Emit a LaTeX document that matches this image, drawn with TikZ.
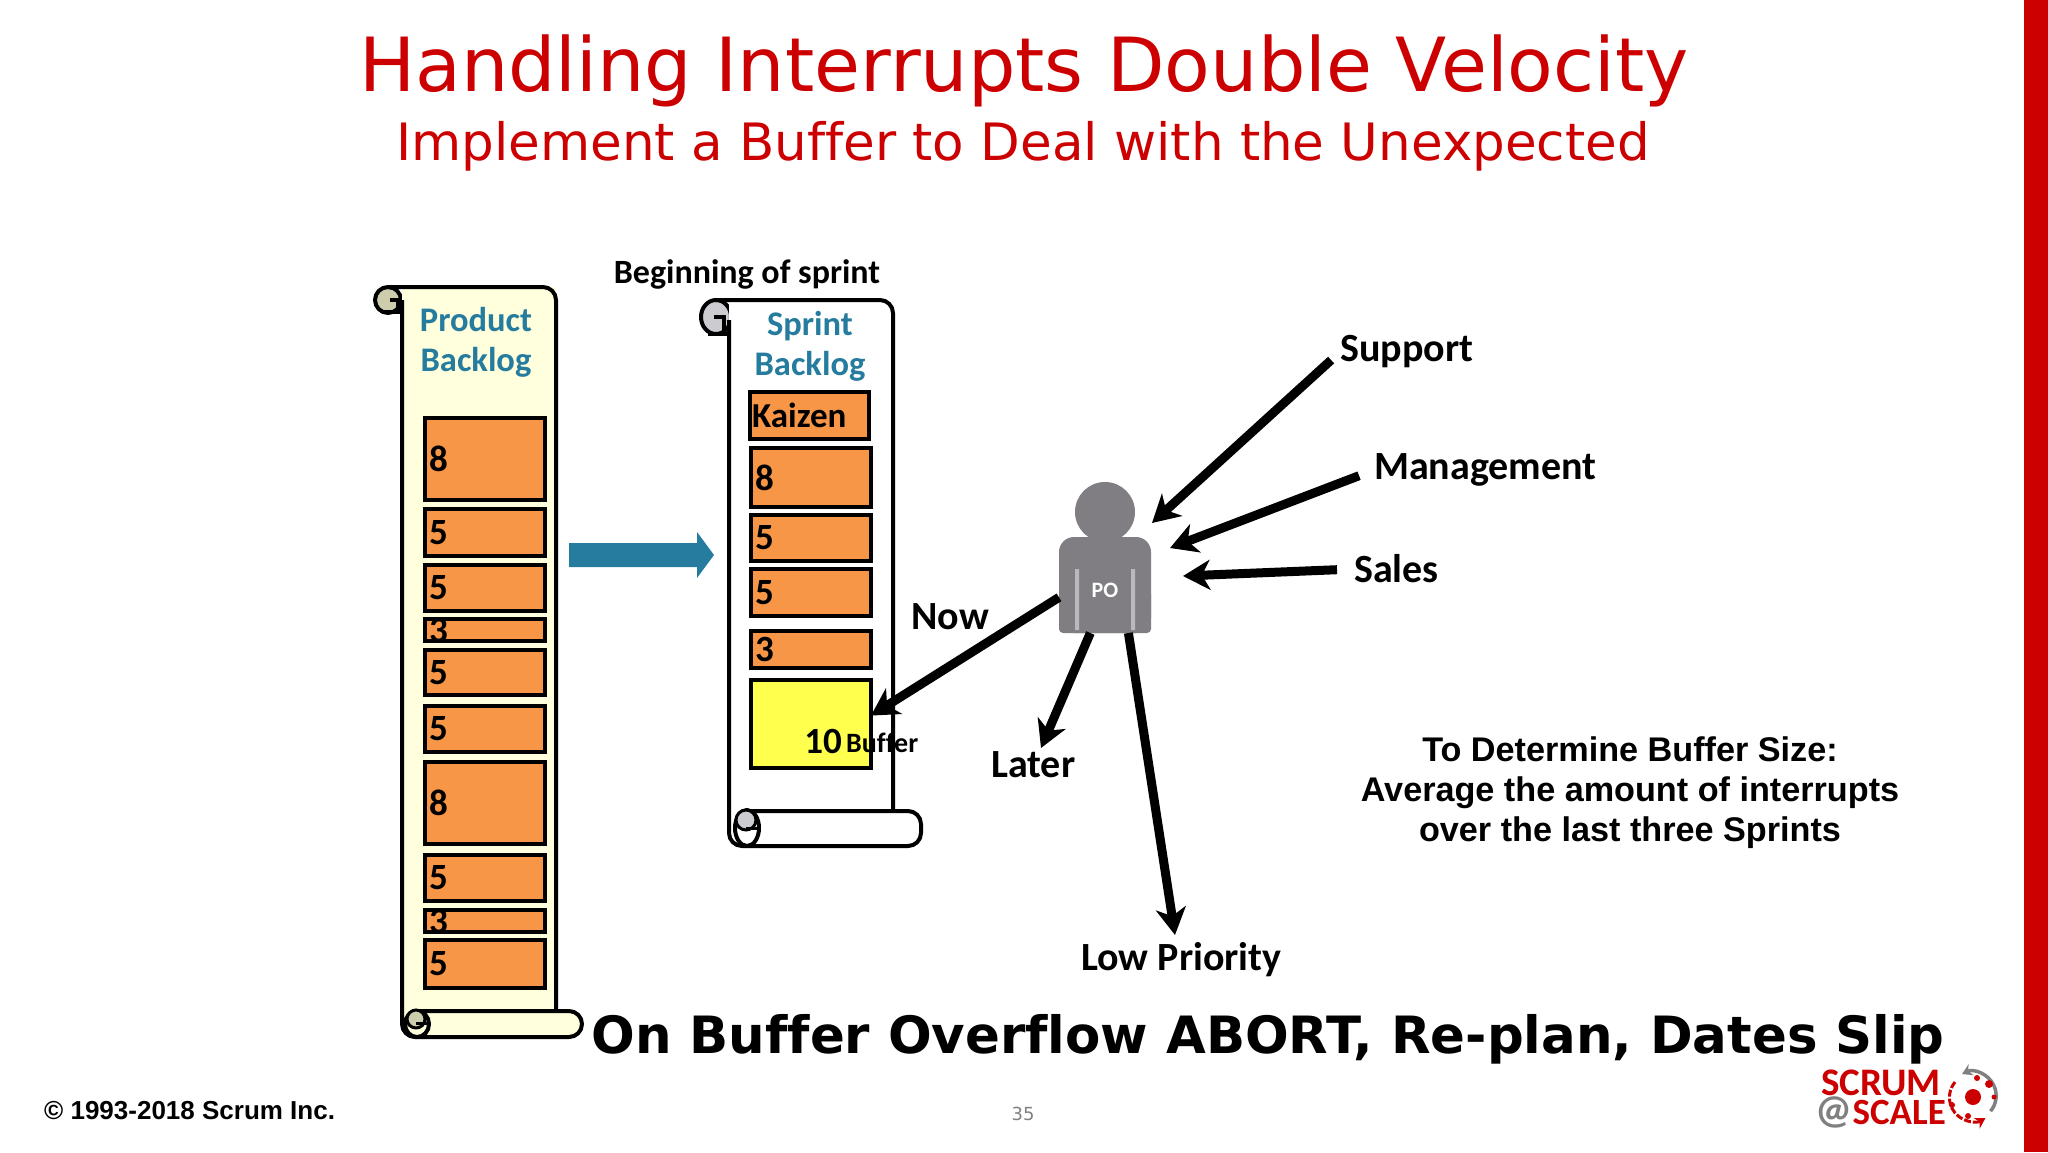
\documentclass[tikz,border=0pt]{standalone}
\usepackage{xcolor}
\usepackage{fontspec}
\usepackage{tikz}
\usetikzlibrary{arrows.meta}
\setmainfont[Ligatures=NoCommon]{Carlito}
\newfontfamily\slidefont[Ligatures=NoCommon]{DejaVu Sans}
\newfontfamily\notefont{Liberation Sans}
\definecolor{slidered}{HTML}{CC0000}
\definecolor{itemorange}{HTML}{F79646}
\definecolor{bufferyellow}{HTML}{FFFF4D}
\definecolor{scrollcream}{HTML}{FFFFDD}
\definecolor{curlbeige}{HTML}{CDCDAE}
\definecolor{curlgrey}{HTML}{CBCBD0}
\definecolor{tealblue}{HTML}{267C9E}
\definecolor{pogrey}{HTML}{807E82}
\tikzstyle{itembox} = [rectangle, draw=black, line width=4.5pt, fill=itemorange, minimum width=120pt, outer sep=0pt, inner sep=0pt]
\tikzstyle{points} = [anchor=west, inner sep=4pt, font=\bfseries\fontsize{37}{37}\selectfont]
\tikzstyle{scrollline} = [draw=black, line width=4pt, rounded corners=13pt, line join=round]
\tikzstyle{scrollhead} = [text=tealblue, align=center, inner sep=0pt, font=\bfseries\fontsize{34.5}{40}\selectfont]
\tikzstyle{source} = [anchor=west, inner sep=0pt, font=\bfseries\fontsize{40}{40}\selectfont]
\tikzstyle{push} = [line width=9pt, -{Stealth[length=27pt, width=30pt, inset=8pt]}]

\begin{document}
\begin{tikzpicture}[x=1pt, y=-1pt]
    \useasboundingbox (0,0) rectangle (2048,1152);
    \fill[slidered] (2024,0) rectangle (2048,1152);

    \node[text=slidered, inner sep=0pt, font=\slidefont\fontsize{74.7}{74.7}\selectfont] (title) at (1024,71) {Handling Interrupts Double Velocity};
    \node[text=slidered, inner sep=0pt, font=\slidefont\fontsize{51.5}{51.5}\selectfont] (subtitle) at (1023,146) {Implement a Buffer to Deal with the Unexpected};

    \draw[scrollline, fill=curlbeige] (388,300) circle (13pt);
    \fill[scrollcream] (402,287) rectangle (556,1020);
    \draw[scrollline] (388,287) -- (556,287) -- (556,1011);
    \draw[scrollline, fill=scrollcream] (402,300) -- (402,1037) -- (582,1037) -- (582,1011) -- (417,1011);
    \draw[draw=black, line width=4pt] (382,312) -- (402,312) (390,300) -- (398,300) -- (398,312);
    \draw[draw=black, line width=4pt, fill=scrollcream] (417,1024) ellipse (12pt and 13pt);
    \draw[draw=black, line width=3pt, fill=curlbeige] (416,1019) circle (9pt);
    \draw[draw=black, line width=3pt] (416,1023) -- (428,1023);

    \draw[draw=black, line width=4pt, fill=curlgrey] (716,317) ellipse (15pt and 17pt);
    \fill[white] (729,300) rectangle (893,820);
    \draw[scrollline] (716,300) -- (893,300) -- (893,811);
    \draw[scrollline, fill=white] (729,320) -- (729,846) -- (921,846) -- (921,811) -- (747,811);
    \draw[draw=black, line width=4pt] (708,334) -- (729,334) (714,317) -- (724,317) -- (724,334);
    \draw[draw=black, line width=4pt, fill=white] (747,828) ellipse (12pt and 18pt);
    \draw[draw=black, line width=3pt, fill=curlgrey] (746,820) circle (10pt);
    \draw[draw=black, line width=3pt] (746,828) -- (758,828);

    \node[scrollhead] (pbtitle) at (476,342) {Product\\Backlog};
    \node[scrollhead] (sbtitle) at (810,346) {Sprint\\Backlog};
    \node[inner sep=0pt, font=\bfseries\fontsize{34}{34}\selectfont] (begin) at (747,274) {Beginning of sprint};

    \node[itembox, minimum height=82pt] (pba) at (485,459) {};
    \node[itembox, minimum height=47pt] (pbb) at (485,532.5) {};
    \node[itembox, minimum height=46pt] (pbc) at (485,588) {};
    \node[itembox, minimum height=22pt] (pbd) at (485,630) {};
    \node[itembox, minimum height=45pt] (pbe) at (485,672.5) {};
    \node[itembox, minimum height=46pt] (pbf) at (485,729) {};
    \node[itembox, minimum height=82pt] (pbg) at (485,803) {};
    \node[itembox, minimum height=46pt] (pbh) at (485,878) {};
    \node[itembox, minimum height=22pt] (pbi) at (485,921) {};
    \node[itembox, minimum height=48pt] (pbj) at (485,964) {};
    \node[points] (pban) at (pba.west) {8};
    \node[points] (pbbn) at (pbb.west) {5};
    \node[points] (pbcn) at (pbc.west) {5};
    \node[points] (pbdn) at (pbd.west) {3};
    \node[points] (pben) at (pbe.west) {5};
    \node[points] (pbfn) at (pbf.west) {5};
    \node[points] (pbgn) at (pbg.west) {8};
    \node[points] (pbhn) at (pbh.west) {5};
    \node[points] (pbin) at (pbi.west) {3};
    \node[points] (pbjn) at (pbj.west) {5};
    \draw[line width=4.5pt] (pbd.north west) rectangle (pbd.south east);
    \draw[line width=4.5pt] (pbi.north west) rectangle (pbi.south east);

    \node[itembox, minimum width=119pt, minimum height=47pt] (kaizen) at (809.5,415.5) {};
    \node[itembox, minimum height=59pt] (sba) at (811,477.5) {};
    \node[itembox, minimum height=46pt] (sbb) at (811,538) {};
    \node[itembox, minimum height=47pt] (sbc) at (811,592.5) {};
    \node[itembox, minimum height=37pt] (sbd) at (811,649.5) {};
    \node[itembox, fill=bufferyellow, minimum height=88pt] (buffer) at (811,724) {};
    \node[points, inner sep=2pt, font=\bfseries\fontsize{35}{35}\selectfont] (kaizenn) at (kaizen.west) {Kaizen};
    \node[points] (sban) at (sba.west) {8};
    \node[points] (sbbn) at (sbb.west) {5};
    \node[points] (sbcn) at (sbc.west) {5};
    \node[points] (sbdn) at (sbd.west) {3};
    \node[inner sep=0pt, font=\bfseries\fontsize{37}{37}\selectfont] (bufferten) at (823,741) {10};
    \node[anchor=west, inner sep=0pt, font=\bfseries\fontsize{28}{28}\selectfont] (bufferlabel) at (846,743) {Buffer};

    \fill[tealblue] (569,543) -- (697,543) -- (697,532) -- (714,555) -- (697,578) -- (697,567) -- (569,567) -- cycle;

    \fill[pogrey, rounded corners=4pt] (1059,590) rectangle (1151,633);
    \node[rectangle, fill=pogrey, rounded corners=15pt, minimum width=92pt, minimum height=96pt, outer sep=0pt, inner sep=0pt] (pobody) at (1105,585) {};
    \fill[pogrey!55!white] (1075,569) rectangle (1079,630) (1131,569) rectangle (1135,630);
    \node[text=white, inner sep=0pt, font=\bfseries\fontsize{22}{22}\selectfont] (potext) at (1105,590) {PO};
    \node[circle, fill=pogrey, minimum size=60pt, inner sep=0pt] (pohead) at (1105,512) {};

    \node[source] (support) at (1340,352) {Support};
    \node[source] (management) at (1374,470) {Management};
    \node[source] (sales) at (1354,569) {Sales};
    \node[source] (now) at (911,617) {Now};
    \node[source] (later) at (991,765) {Later};
    \node[source] (lowprio) at (1081,960) {Low Priority};
    \coordinate (supporttip) at (1152,523);
    \coordinate (mgmttip) at (1170,548);
    \coordinate (salestip) at (1183,576);
    \coordinate (latertip) at (1041,748);
    \coordinate (lowtip) at (1175,935);

    \draw[push, shorten <=12pt] (support.west) -- (supporttip);
    \draw[push, shorten <=16pt] (management.west) -- (mgmttip);
    \draw[push, shorten <=17pt] (sales.west) -- (salestip);
    \draw[push] (pobody.195) -- (buffer.8);
    \draw[push] (pobody.253) -- (latertip);
    \draw[push] (pobody.296) -- (lowtip);

    \node[align=center, inner sep=0pt, font=\notefont\bfseries\fontsize{34.2}{40}\selectfont] (buffernote) at (1630,793) {To Determine Buffer Size:\\Average the amount of interrupts\\over the last three Sprints};
    \node[inner sep=0pt, font=\slidefont\bfseries\fontsize{51.4}{51.4}\selectfont] (overflow) at (1268,1039) {On Buffer Overflow ABORT, Re-plan, Dates Slip};
    \node[anchor=west, inner sep=0pt, font=\notefont\bfseries\fontsize{26}{26}\selectfont] (copyright) at (44,1111) {© 1993-2018 Scrum Inc.};
    \node[text=gray, inner sep=0pt, font=\slidefont\fontsize{18}{18}\selectfont] (pagenum) at (1023,1114) {35};

    \node[anchor=east, text=slidered, inner sep=0pt, font=\bfseries\fontsize{39}{39}\selectfont] (logotop) at (1941,1083) {SCRUM};
    \node[anchor=east, text=slidered, inner sep=0pt, font=\bfseries\fontsize{37}{37}\selectfont] (logobottom) at (1946,1112) {SCALE};
    \node[anchor=east, text=gray, inner sep=0pt, font=\bfseries\fontsize{41}{41}\selectfont] (logoat) at (logobottom.west) {@};
    \fill[slidered] (1973,1097) circle (8pt);
    \draw[gray, line width=3.5pt, {Stealth[length=10pt, width=12pt]}-] (1962,1074) arc[start angle=115, end angle=-40, radius=24pt];
    \draw[slidered, line width=3pt, dash pattern=on 7pt off 2pt, -{Stealth[length=10pt, width=12pt]}] (1955,1082) arc[start angle=140, end angle=300, radius=24pt];
    \fill[slidered] (1989,1084) circle (4pt) (1977,1078) circle (3pt) (1994,1097) circle (2.5pt) (1952,1105) circle (3pt) (1968,1116) circle (3pt);
\end{tikzpicture}
\end{document}
